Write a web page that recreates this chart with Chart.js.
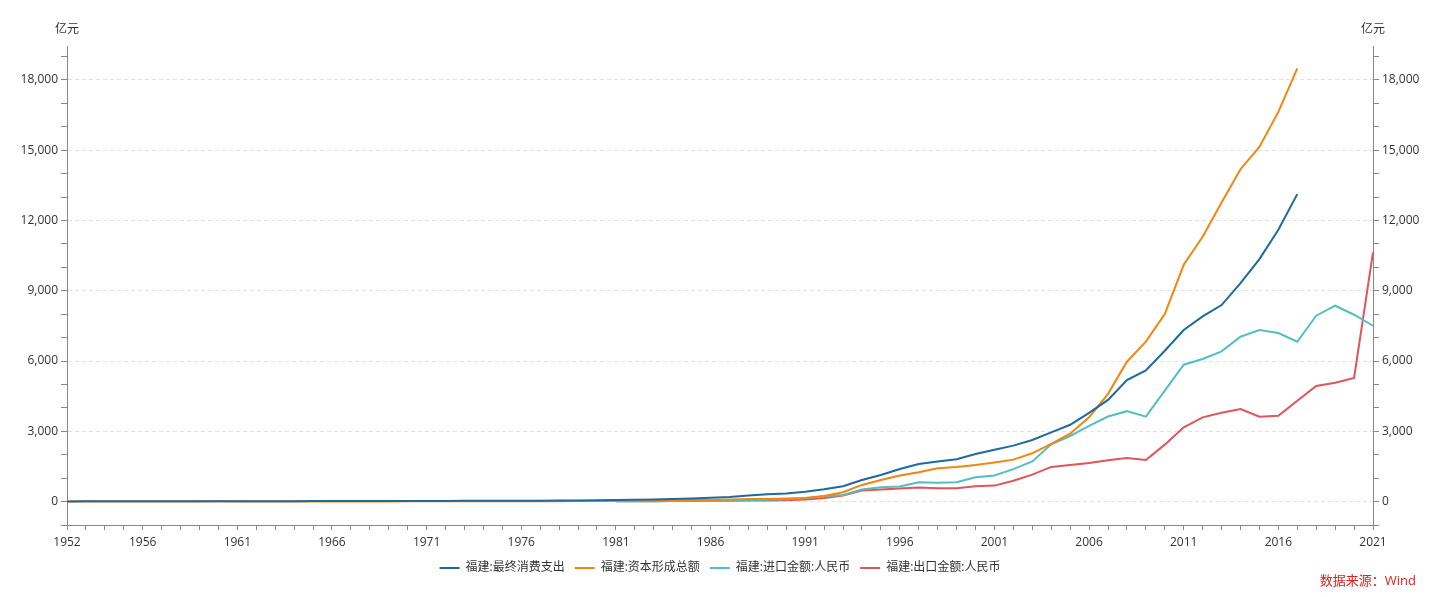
<!DOCTYPE html>
<html>
<head>
<meta charset="utf-8">
<script src="https://cdn.jsdelivr.net/npm/chart.js@4.4.1/dist/chart.umd.min.js"></script>
<style>
  html, body { margin: 0; padding: 0; background: #fff; }
  #wrap { position: relative; width: 1440px; height: 597px; }
  #source { position: absolute; right: 24px; top: 570px; color: #e0211d; font: 13px 'Open Sans', 'Noto Sans CJK SC', sans-serif; }
</style>
</head>
<body>
<div id="wrap">
  <canvas id="myChart" width="1440" height="597"></canvas>
  <div id="source">数据来源：Wind</div>
</div>
<script>
'use strict';

// Data (亿元)
let years = [
  1952, 1953, 1954, 1955, 1956, 1957, 1958, 1959, 1960, 1961,
  1962, 1963, 1964, 1965, 1966, 1967, 1968, 1969, 1970, 1971,
  1972, 1973, 1974, 1975, 1976, 1977, 1978, 1979, 1980, 1981,
  1982, 1983, 1984, 1985, 1986, 1987, 1988, 1989, 1990, 1991,
  1992, 1993, 1994, 1995, 1996, 1997, 1998, 1999, 2000, 2001,
  2002, 2003, 2004, 2005, 2006, 2007, 2008, 2009, 2010, 2011,
  2012, 2013, 2014, 2015, 2016, 2017, 2018, 2019, 2020, 2021
];
let seriesNames = ['福建:最终消费支出', '福建:资本形成总额', '福建:进口金额:人民币', '福建:出口金额:人民币'];

let consumption = [
  8, 9, 10, 11, 12, 13, 15, 16, 17, 17,
  17, 18, 19, 20, 21, 22, 22, 23, 25, 27,
  29, 31, 33, 35, 37, 39, 42, 48, 58, 66,
  75, 85, 105, 135, 165, 200, 260, 310, 341, 420,
  526, 654, 924, 1137, 1393, 1607, 1706, 1806, 2033, 2215,
  2389, 2631, 2957, 3280, 3790, 4340, 5190, 5600, 6441, 7323,
  7906, 8390, 9328, 10352, 11602, 13125, null, null, null, null
];
let capital = [
  2, 2, 3, 3, 4, 4, 6, 8, 9, 5,
  4, 4, 5, 6, 7, 7, 6, 7, 9, 10,
  10, 11, 12, 13, 13, 14, 18, 20, 24, 28,
  32, 38, 48, 62, 72, 85, 105, 115, 128, 156,
  242, 398, 711, 924, 1109, 1251, 1422, 1479, 1565, 1670,
  1791, 2061, 2460, 2900, 3597, 4600, 5972, 6830, 8005, 10110,
  11303, 12767, 14190, 15143, 16635, 18499, null, null, null, null
];
let imports = [
  null, null, null, null, null, null, null, null, null, null,
  null, null, null, null, null, null, null, null, null, null,
  null, null, null, null, null, null, null, null, null, 10,
  12, 15, 25, 35, 40, 50, 60, 75, 99, 142,
  227, 284, 512, 611, 647, 825, 800, 825, 1038, 1115,
  1385, 1713, 2445, 2800, 3228, 3633, 3860, 3626, 4735, 5844,
  6086, 6412, 7038, 7322, 7195, 6825, 7934, 8361, 7976, 7507
];
let exports = [
  null, null, null, null, null, null, null, null, null, null,
  null, null, null, null, null, null, null, null, null, null,
  null, null, null, null, null, null, null, null, null, 12,
  14, 16, 20, 25, 30, 38, 45, 50, 57, 85,
  156, 256, 469, 512, 562, 597, 569, 569, 654, 682,
  888, 1152, 1479, 1558, 1650, 1763, 1863, 1777, 2431, 3171,
  3597, 3796, 3952, 3626, 3668, 4308, 4934, 5076, 5275, 10635
];
// tick marks every 1000, labels every 3000
let yTicks = [
  -1000, 0, 1000, 2000, 3000, 4000, 5000, 6000, 7000, 8000, 9000, 10000,
  11000, 12000, 13000, 14000, 15000, 16000, 17000, 18000, 19000
];
let yLabelled = [0, 3000, 6000, 9000, 12000, 15000, 18000];
let xLabelled = [1952, 1956, 1961, 1966, 1971, 1976, 1981, 1986, 1991, 1996, 2001, 2006, 2011, 2016, 2021];
let lineColors = ['#1b6b9e', '#f5850f', '#52bfc0', '#e2545a'];

let fontFamily = "'Open Sans', 'Noto Sans CJK SC', sans-serif";
let ctx = document.getElementById('myChart').getContext('2d');

function makeDataset(i, values){
  return {
    label: seriesNames[i],
    data: values,
    borderColor: lineColors[i],
    backgroundColor: lineColors[i],
    borderWidth: 2,
    pointRadius: 0,
    pointHoverRadius: 0,
    tension: 0,
    spanGaps: false,
    yAxisID: 'y'
  };
}

function setYTicks(scale){
  scale.ticks = yTicks.map(v => ({ value: v }));
}

function yLabel(value){
  if (!yLabelled.includes(value)) return '';
  return value.toLocaleString('en-US');
}

// draws the 亿元 unit on top of both y axes
let unitPlugin = {
  id: 'unitLabels',
  afterDraw(chart){
    let c = chart.ctx;
    c.save();
    c.font = '12px ' + fontFamily;
    c.fillStyle = '#333';
    c.textAlign = 'center';
    c.textBaseline = 'middle';
    c.fillText('亿元', chart.chartArea.left, 30);
    c.fillText('亿元', chart.chartArea.right, 30);
    c.restore();
  }
};

let yTickFont = { size: 12, family: fontFamily };

let myChartObj = {
  type: 'line',
  data: {
    labels: years,
    datasets: [
      makeDataset(0, consumption),
      makeDataset(1, capital),
      makeDataset(2, imports),
      makeDataset(3, exports)
    ]
  },
  options: {
    responsive: false,
    animation: false,
    layout: { padding: { top: 46, bottom: 13, left: 0, right: 0 } },
    scales: {
      x: {
        type: 'category',
        offset: false,
        afterFit(scale){ scale.height = 27; },
        grid: { drawOnChartArea: false, tickLength: 5, tickColor: '#888' },
        border: { color: '#888' },
        ticks: {
          autoSkip: false,
          maxRotation: 0,
          padding: 5,
          color: '#333',
          font: { size: 12, family: fontFamily },
          callback: function(value, index){
            let yr = years[index];
            return xLabelled.includes(yr) ? String(yr) : '';
          }
        }
      },
      y: {
        position: 'left',
        min: -1000,
        max: 19450,
        afterBuildTicks: setYTicks,
        afterFit(scale){ scale.width = 67; },
        grid: {
          tickLength: 6,
          tickColor: '#888',
          color: c => (c.tick && yLabelled.includes(c.tick.value)) ? '#e2e2e2' : 'rgba(0,0,0,0)'
        },
        border: { color: '#888', dash: [4, 3] },
        ticks: {
          autoSkip: false,
          padding: 3,
          color: '#333',
          font: yTickFont,
          callback: yLabel
        }
      },
      y1: {
        position: 'right',
        min: -1000,
        max: 19450,
        afterBuildTicks: setYTicks,
        afterFit(scale){ scale.width = 67; },
        grid: { drawOnChartArea: false, tickLength: 6, tickColor: '#888' },
        border: { color: '#888' },
        ticks: {
          autoSkip: false,
          padding: 3,
          color: '#333',
          font: yTickFont,
          callback: yLabel
        }
      }
    },
    plugins: {
      legend: {
        position: 'bottom',
        labels: {
          usePointStyle: true,
          pointStyle: 'line',
          pointStyleWidth: 20,
          boxHeight: 12,
          padding: 10,
          color: '#333',
          font: { size: 12, family: fontFamily }
        }
      },
      tooltip: { enabled: false }
    }
  },
  plugins: [unitPlugin]
};

const myChart = new Chart(ctx, myChartObj);
</script>
</body>
</html>
